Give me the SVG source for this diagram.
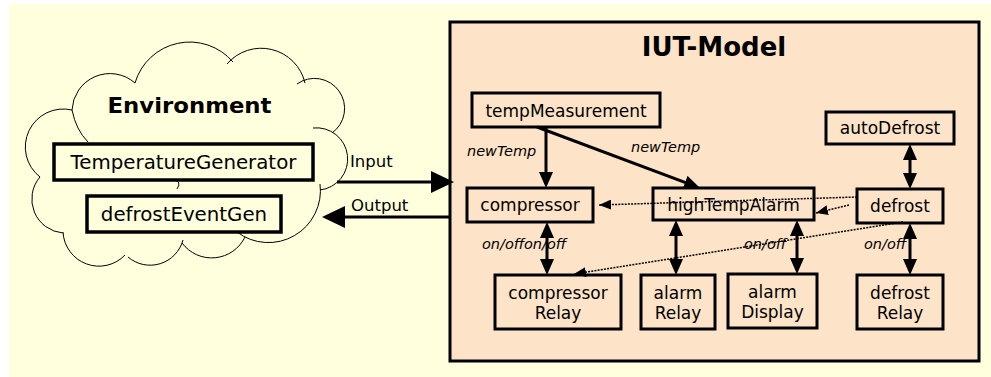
<svg xmlns="http://www.w3.org/2000/svg" width="991" height="377" viewBox="0 0 991 377">
<style>
text{font-family:"DejaVu Sans","Liberation Sans",sans-serif;fill:#000}
.bg{fill:#ffffdd}
.box{fill:#fde4c8;stroke:#000;stroke-width:3}
.ebox{fill:#ffffdd;stroke:#000;stroke-width:3.5}
.n{font-size:17px;text-anchor:middle}
.en{font-size:19.8px;text-anchor:middle}
.lbl{font-size:14.5px;font-style:italic}
.io{font-size:16.5px}
.cloud{fill:none;stroke:#000;stroke-width:1}
.solid{fill:none;stroke:#000;stroke-width:3}
.dot{fill:none;stroke:#000;stroke-width:1.5;stroke-dasharray:2 1.2}
</style>
<defs>
<marker id="big" markerUnits="userSpaceOnUse" markerWidth="23" markerHeight="22" refX="19" refY="11" orient="auto"><path d="M0,0 L23,11 L0,22 z" fill="#000"/></marker>
<marker id="arr" markerUnits="userSpaceOnUse" markerWidth="16" markerHeight="14" refX="12" refY="7" orient="auto-start-reverse"><path d="M0,0 L16,7 L0,14 z" fill="#000"/></marker>
<marker id="da" markerUnits="userSpaceOnUse" markerWidth="12" markerHeight="10" refX="12" refY="5" orient="auto"><path d="M0,0 L12,5 L0,10 z" fill="#000"/></marker>
</defs>
<rect class="bg" x="9" y="4" width="982" height="373"/>

<g id="environment">
<path class="cloud" d="M72,110 A38,38 0 0 1 135,83 M72,110 Q76,130 88,142 M135,83 A57,57 0 0 1 233,62 M227,64 A45,45 0 0 1 305,83 M297,84 A30,30 0 0 1 332,133 M313,128 A31,31 0 0 1 320,190 M320,184 A52,52 0 0 1 237,232 M245,237 A37,37 0 0 1 182,243 M183,240 A34,34 0 0 1 128,257 M125,255 A36,36 0 0 1 63,232 M63,233 A34,34 0 0 1 40,177 M40,177 A38,38 0 0 1 72,110 M171,180 Q183,180 177,189"/>
<text x="189.5" y="113" font-size="22" font-weight="bold" text-anchor="middle" textLength="164" lengthAdjust="spacingAndGlyphs">Environment</text>
</g>
<g id="temperatureGenerator">
<rect class="ebox" x="54" y="144" width="259" height="36"/>
<text class="en" x="183.5" y="168.5">TemperatureGenerator</text>
</g>
<g id="defrostEventGen">
<rect class="ebox" x="87" y="196" width="194" height="36"/>
<text class="en" x="184" y="221">defrostEventGen</text>
</g>

<g id="iut-model">
<rect class="box" x="450" y="22" width="529" height="339"/>
<text x="714" y="56" font-size="26" font-weight="bold" text-anchor="middle">IUT-Model</text>
</g>
<g id="tempMeasurement">
<rect class="box" x="472" y="93" width="188" height="34"/>
<text class="n" x="566" y="116.5">tempMeasurement</text>
</g>
<g id="compressor">
<rect class="box" x="467" y="188" width="126" height="34"/>
<text class="n" x="530" y="211">compressor</text>
</g>
<g id="highTempAlarm">
<rect class="box" x="653" y="188" width="161" height="32"/>
<text class="n" x="733.5" y="210.5">highTempAlarm</text>
</g>
<g id="defrost">
<rect class="box" x="857" y="189" width="86" height="34"/>
<text class="n" x="900" y="212">defrost</text>
</g>
<g id="autoDefrost">
<rect class="box" x="826" y="112" width="128" height="32"/>
<text class="n" x="890" y="134">autoDefrost</text>
</g>
<g id="compressorRelay">
<rect class="box" x="495" y="275" width="126" height="54"/>
<text class="n" x="558" y="299">compressor</text>
<text class="n" x="558" y="318.5">Relay</text>
</g>
<g id="alarmRelay">
<rect class="box" x="641" y="275" width="74" height="54"/>
<text class="n" x="678" y="299">alarm</text>
<text class="n" x="678" y="318.5">Relay</text>
</g>
<g id="alarmDisplay">
<rect class="box" x="728" y="274" width="89" height="54"/>
<text class="n" x="772.5" y="298">alarm</text>
<text class="n" x="772.5" y="317.5">Display</text>
</g>
<g id="defrostRelay">
<rect class="box" x="857" y="275" width="86" height="54"/>
<text class="n" x="900" y="299">defrost</text>
<text class="n" x="900" y="318.5">Relay</text>
</g>

<g id="connectors">
<path class="solid" d="M337,182 L450,182" marker-end="url(#big)"/>
<path class="solid" d="M450,217 L326,217" marker-end="url(#big)"/>
<text class="io" x="350" y="167">Input</text>
<text class="io" x="351" y="211">Output</text>

<path class="solid" d="M546,127 L546,184" marker-end="url(#arr)"/>
<path class="solid" d="M537,127 L696.3,186.6" marker-end="url(#arr)"/>
<text class="lbl" x="467" y="156">newTemp</text>
<text class="lbl" x="631" y="152">newTemp</text>

<path class="solid" d="M547,226 L547,271" marker-start="url(#arr)" marker-end="url(#arr)"/>
<path class="solid" d="M676,224 L676,271" marker-start="url(#arr)" marker-end="url(#arr)"/>
<path class="solid" d="M797,224 L797,270" marker-start="url(#arr)" marker-end="url(#arr)"/>
<path class="solid" d="M910,227 L910,271" marker-start="url(#arr)" marker-end="url(#arr)"/>
<path class="solid" d="M910,148 L910,185" marker-start="url(#arr)" marker-end="url(#arr)"/>

<path class="dot" d="M857,197 L599,205" marker-end="url(#da)"/>
<path class="dot" d="M849,205 L816,213" marker-end="url(#da)"/>
<path class="dot" d="M903,222 L574,274" marker-end="url(#da)"/>

<text class="lbl" x="482" y="249">on/off</text>
<text class="lbl" x="524" y="249">on/off</text>
<text class="lbl" x="744" y="249">on/off</text>
<text class="lbl" x="864" y="249">on/off</text>
</g>
</svg>
